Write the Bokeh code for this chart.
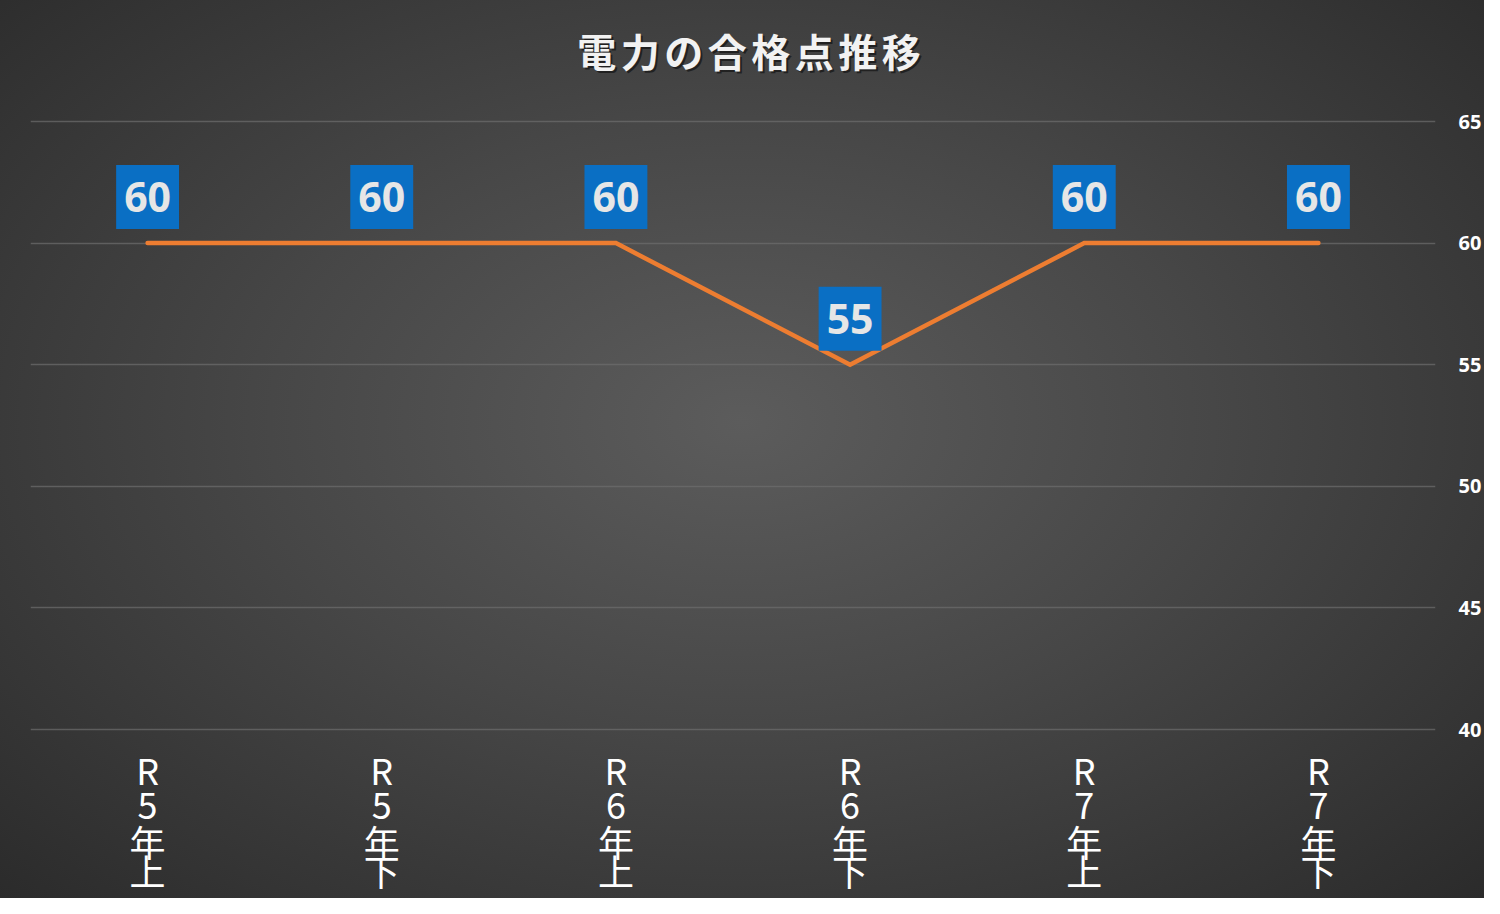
from bokeh.plotting import figure
from bokeh.models import (ColumnDataSource, FixedTicker, Range1d, CategoricalAxis,
                          CustomJSTickFormatter, Label)
from bokeh.core.properties import value
from bokeh.embed import file_html
from bokeh.resources import INLINE

# data
categories = ["R5年上", "R5年下", "R6年上", "R6年下", "R7年上", "R7年下"]
scores = [60, 60, 60, 55, 60, 60]
y_ticks = [40, 45, 50, 55, 60, 65]
title_text = "電力の合格点推移"

JP = "Noto Sans CJK JP"

source = ColumnDataSource(data={
    "cat": categories,
    "val": scores,
    "label": [str(v) for v in scores],
})

W, H = 1484, 898
PX = 608 / 25.0          # pixels per point on the y scale
FRAME_BOTTOM = 731
# the frame reaches the top of the canvas so the title can sit inside it,
# and a little room is left below 40 so that grid line is not clipped
p = figure(
    x_range=categories,
    y_range=Range1d(40 - 2 / PX, 65 + 121 / PX),
    width=W, height=H, output_backend="svg", toolbar_location=None,
    y_axis_location="right",
    min_border_left=30, min_border_right=47,
    min_border_top=0, min_border_bottom=H - FRAME_BOTTOM,
)
p.x_range.range_padding = 0
p.background_fill_color = None
p.border_fill_color = None
p.outline_line_color = None
p.styles = {"background": "radial-gradient(ellipse at 50% 47%, #5c5c5c 0%, #474747 45%, #2b2b2b 100%)"}

p.xgrid.visible = False
p.ygrid.grid_line_color = "#6e6e6e"
p.ygrid.grid_line_alpha = 0.7
p.ygrid.grid_line_width = 1.5

p.yaxis.ticker = FixedTicker(ticks=y_ticks)
p.yaxis.axis_line_color = None
p.yaxis.major_tick_line_color = None
p.yaxis.minor_tick_line_color = None
p.yaxis.major_tick_out = 0
p.yaxis.major_label_standoff = 23
p.yaxis.major_label_text_color = "white"
p.yaxis.major_label_text_font = "Noto Sans"
p.yaxis.major_label_text_font_style = "bold"
p.yaxis.major_label_text_font_size = "20px"


def style_row(ax, j, standoff):
    """one row of the vertical category labels: the j-th character"""
    ax.axis_line_color = None
    ax.major_tick_line_color = None
    ax.minor_tick_line_color = None
    ax.major_tick_in = 0
    ax.major_tick_out = 0
    ax.major_label_standoff = standoff
    ax.major_label_text_color = "white"
    ax.major_label_text_font = JP
    ax.major_label_text_font_size = "36px"
    ax.major_label_text_line_height = 1.0
    ax.formatter = CustomJSTickFormatter(code="return tick.charAt(%d);" % j)


# stacked axes, one per character; standoffs set the row spacing
row_standoffs = [11, -5, -7, -26]
style_row(p.xaxis[0], 0, row_standoffs[0])
for j in range(1, 4):
    ax = CategoricalAxis()
    style_row(ax, j, row_standoffs[j])
    p.add_layout(ax, "below")

p.line("cat", "val", source=source, line_color="#ed7d31", line_width=4.5,
       line_cap="round", line_join="miter")

p.text("cat", "val", text="label", source=source, y_offset=-46,
       text_align="center", text_baseline="middle",
       text_font=value("Noto Sans"), text_font_style="bold",
       text_font_size="41px", text_color="#e6e6e6",
       background_fill_color="#0a6fc4", padding=(8, 8, 17, 17))

# title, one label per character for the wide letter spacing, with a soft shadow
spacing = 43.5
n = len(title_text)
for i, ch in enumerate(title_text):
    x = 748.5 + (i - (n - 1) / 2) * spacing - 30
    for dx, dy, col, alpha in [(2, -2, "black", 0.5), (0, 0, "#f2f2f2", 1.0)]:
        p.add_layout(Label(x=x + dx, y=FRAME_BOTTOM - 49 + dy,
                           x_units="screen", y_units="screen", text=ch,
                           text_font=JP, text_font_style="bold",
                           text_font_size="39px", text_color=col,
                           text_alpha=alpha, text_align="center",
                           text_baseline="middle"))

open("out.html", "w").write(file_html(p, INLINE))
